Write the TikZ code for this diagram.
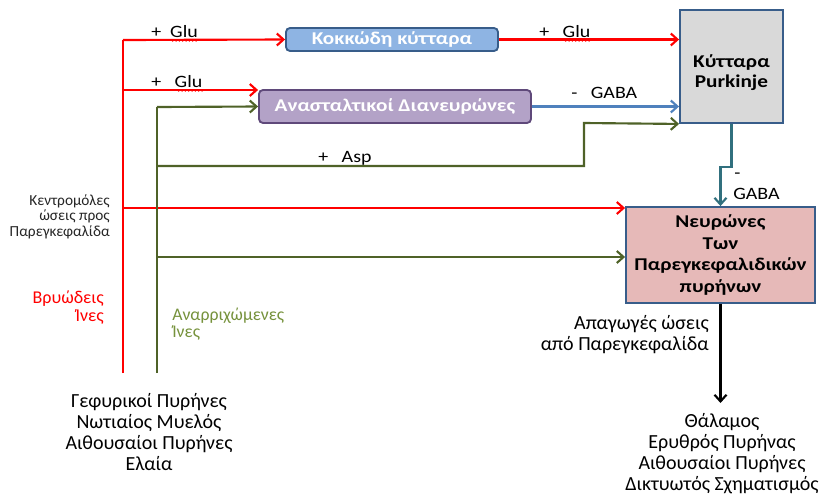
\documentclass[tikz,border=0pt]{standalone}
\usepackage{fontspec}
\setmainfont{Carlito}
\newfontfamily\boxface[FakeStretch=1.18]{Carlito}
\newfontfamily\tagface[FakeStretch=1.15]{Carlito}
\usetikzlibrary{arrows.meta,decorations.pathmorphing}
\definecolor{fibred}{HTML}{FF0000}
\definecolor{climb}{HTML}{4F6228}
\definecolor{climbtext}{HTML}{76923C}
\definecolor{gabablue}{HTML}{4F81BD}
\definecolor{purkteal}{HTML}{31707E}
\definecolor{boxedge}{HTML}{385D8A}
\definecolor{granfill}{HTML}{8EB4E3}
\definecolor{interfill}{HTML}{B3A2C7}
\definecolor{interedge}{HTML}{5F497A}
\definecolor{purkfill}{HTML}{D9D9D9}
\definecolor{nucfill}{HTML}{E6B9B8}
\tikzset{
  conn/.style={line width=1.6pt,-{Straight Barb[length=5pt,width=9pt,line width=1.6pt]}},
  wire/.style={line width=1.6pt},
  cellbox/.style={draw=boxedge,line width=1.4pt,font=\boxface\fontsize{13.5}{16.2}\selectfont\bfseries,align=center,inner sep=0pt},
  lbl/.style={font=\tagface\fontsize{13}{15}\selectfont,inner sep=0pt},
  listtext/.style={font=\fontsize{15}{15.75}\selectfont,inner sep=0pt},
  squiggle/.style={draw=fibred,line width=0.5pt,decorate,decoration={snake,amplitude=0.6pt,segment length=2.5pt}}
}
\begin{document}
\begin{tikzpicture}[x=0.75pt,y=-0.75pt]
\useasboundingbox (0,0) rectangle (825,497);

% cell boxes
\node[cellbox,rounded corners=3pt,fill=granfill,text=white,minimum width=212*0.75pt,minimum height=23*0.75pt] (gran) at (392,39.5) {Κοκκώδη κύτταρα};
\node[cellbox,rounded corners=3pt,draw=interedge,fill=interfill,text=white,minimum width=272*0.75pt,minimum height=33*0.75pt] (inter) at (395,106.5) {Ανασταλτικοί Διανευρώνες};
\node[cellbox,fill=purkfill,minimum width=103*0.75pt,minimum height=113*0.75pt] (purk) at (731.5,66.5) {\raisebox{-4.5pt}[\height][\depth]{\shortstack{Κύτταρα\\[1pt]Purkinje}}};
\node[cellbox,fill=nucfill,minimum width=189*0.75pt,minimum height=96*0.75pt] (nuc) at (720.5,255) {Νευρώνες\\Των\\Παρεγκεφαλιδικών\\πυρήνων};

% junction points on the two fibre trunks
\coordinate (mossbot) at (123,373);
\coordinate (mosstop) at (123,40);
\coordinate (moss2) at (123,90);
\coordinate (moss3) at (123,208);
\coordinate (climbbot) at (157,373);
\coordinate (climbtop) at (157,107);
\coordinate (climb2) at (157,166);
\coordinate (climbstep) at (584,166);
\coordinate (climbrise) at (584,123);
\coordinate (climb3) at (157,257);
\coordinate (purkjog) at (720.5,167);
\coordinate (outend) at (720.5,403);

% mossy fibres (red)
\draw[wire,fibred] (mossbot) -- (mosstop);
\draw[conn,fibred] (mosstop) -- (gran.west);
\draw[conn,fibred] (moss2) -- (moss2 -| inter.west);
\draw[conn,fibred] (moss3) -- (moss3 -| nuc.west);
\draw[conn,fibred] (gran.east) -- (gran.east -| purk.west);

% climbing fibres (olive)
\draw[wire,climb] (climbbot) -- (climbtop);
\draw[conn,climb] (climbtop) -- (inter.west);
\draw[conn,climb] (climb2) -- (climbstep) -- (climbrise) -- (purk.south west);
\draw[conn,climb] (climb3) -- (climb3 -| nuc.west);

% inhibitory outputs
\draw[conn,gabablue] (inter.east) -- (inter.east -| purk.west);
\draw[conn,purkteal] (purk.south) |- (purkjog) -- (nuc.north);

% efferent output
\draw[conn,black] (nuc.south) -- (outend);

% transmitter labels
\node[lbl,anchor=base west] (glu1) at (151,37) {+\ \ Glu};
\node[lbl,anchor=base west] (glu2) at (151,87) {+\ \ \ Glu};
\node[lbl,anchor=base west] (glu3) at (539,37) {+\ \ \ Glu};
\node[lbl,anchor=base west] (gaba1) at (571,98) {-\ \ \ GABA};
\node[lbl,anchor=base west] (asp) at (318,162) {+\ \ \ Asp};
\node[lbl,anchor=base west] (gabam) at (734,178) {-};
\node[lbl,anchor=base west] (gaba2) at (733,199) {GABA};
\draw[squiggle] (170,40.5) -- (199,40.5);
\draw[squiggle] (176,90.5) -- (204,90.5);
\draw[squiggle] (563,40.5) -- (592,40.5);

% side labels
\node[font=\fontsize{11.5}{11.6}\selectfont,align=right,anchor=north east,inner sep=0pt,text=black!85] (aff) at (110,194) {Κεντρομόλες\\ώσεις προς\\Παρεγκεφαλίδα};
\node[font=\fontsize{13.5}{13.5}\selectfont,align=right,anchor=north east,inner sep=0pt,text=fibred] (mosslbl) at (104,291) {Βρυώδεις\\Ίνες};
\node[font=\fontsize{13.3}{12.75}\selectfont,align=left,anchor=north west,inner sep=0pt,text=climbtext] (climblbl) at (172,308) {Αναρριχώμενες\\Ίνες};

% sources and targets
\node[listtext,align=center,anchor=north] (sources) at (149,393) {Γεφυρικοί Πυρήνες\\Νωτιαίος Μυελός\\Αιθουσαίοι Πυρήνες\\Ελαία};
\node[listtext,align=right,anchor=north east] (efflbl) at (709,315) {Απαγωγές ώσεις\\από Παρεγκεφαλίδα};
\node[listtext,align=center,anchor=north] (targets) at (722,413) {Θάλαμος\\Ερυθρός Πυρήνας\\Αιθουσαίοι Πυρήνες\\Δικτυωτός Σχηματισμός};
\end{tikzpicture}
\end{document}
